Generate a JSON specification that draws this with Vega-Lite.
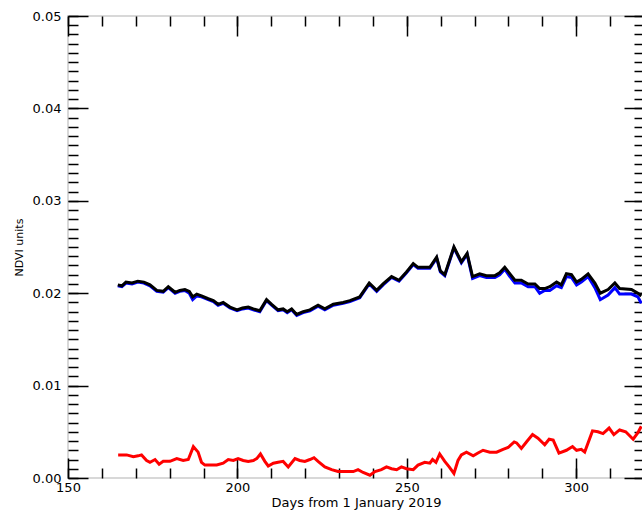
{
  "$schema": "https://vega.github.io/schema/vega-lite/v6.json",
  "autosize": "none",
  "padding": {"left": 68, "top": 16, "right": 0, "bottom": 35},
  "width": 576,
  "height": 462,
  "background": "white",
  "config": {
    "view": {"stroke": "#d8d8d8", "strokeWidth": 2},
    "axis": {"domain": false, "grid": false, "tickColor": "black", "tickWidth": 1.5, "labelColor": "black", "titleColor": "black", "labelFont": "DejaVu Sans", "titleFont": "DejaVu Sans", "titleFontWeight": "normal", "labelOverlap": false, "labelFlush": false}
  },
  "datasets": {
    "blue": [
      {"day":164.7,"ndvi":0.0208},{"day":165.9,"ndvi":0.0207},{"day":167.1,"ndvi":0.0211},{"day":168.9,"ndvi":0.0210},{"day":170.6,"ndvi":0.0212},{"day":172.4,"ndvi":0.0211},{"day":174.2,"ndvi":0.0208},{"day":176.2,"ndvi":0.0202},{"day":178.1,"ndvi":0.0201},{"day":179.6,"ndvi":0.0206},{"day":181.6,"ndvi":0.0200},{"day":183.0,"ndvi":0.0202},{"day":184.5,"ndvi":0.0203},{"day":185.8,"ndvi":0.0200},{"day":186.8,"ndvi":0.0193},{"day":188.0,"ndvi":0.0197},{"day":189.4,"ndvi":0.0196},{"day":191.4,"ndvi":0.0193},{"day":192.9,"ndvi":0.0191},{"day":194.3,"ndvi":0.0187},{"day":195.8,"ndvi":0.0189},{"day":197.8,"ndvi":0.0184},{"day":199.9,"ndvi":0.0181},{"day":201.5,"ndvi":0.0183},{"day":203.2,"ndvi":0.0184},{"day":204.7,"ndvi":0.0182},{"day":206.6,"ndvi":0.0180},{"day":208.6,"ndvi":0.0192},{"day":210.1,"ndvi":0.0187},{"day":212.0,"ndvi":0.0181},{"day":213.5,"ndvi":0.0182},{"day":214.7,"ndvi":0.0179},{"day":216.0,"ndvi":0.0182},{"day":217.5,"ndvi":0.0176},{"day":219.4,"ndvi":0.0179},{"day":221.4,"ndvi":0.0181},{"day":223.8,"ndvi":0.0186},{"day":225.8,"ndvi":0.0182},{"day":228.3,"ndvi":0.0187},{"day":231.2,"ndvi":0.0189},{"day":233.2,"ndvi":0.0191},{"day":236.1,"ndvi":0.0195},{"day":238.9,"ndvi":0.0210},{"day":241.1,"ndvi":0.0202},{"day":243.0,"ndvi":0.0209},{"day":245.5,"ndvi":0.0217},{"day":247.7,"ndvi":0.0213},{"day":249.9,"ndvi":0.0222},{"day":251.9,"ndvi":0.0231},{"day":253.3,"ndvi":0.0227},{"day":256.8,"ndvi":0.0227},{"day":258.8,"ndvi":0.0238},{"day":259.9,"ndvi":0.0223},{"day":261.2,"ndvi":0.0219},{"day":263.9,"ndvi":0.0249},{"day":266.1,"ndvi":0.0233},{"day":267.8,"ndvi":0.0242},{"day":269.4,"ndvi":0.0216},{"day":271.5,"ndvi":0.0219},{"day":273.5,"ndvi":0.0217},{"day":276.0,"ndvi":0.0217},{"day":277.4,"ndvi":0.0220},{"day":278.9,"ndvi":0.0226},{"day":280.2,"ndvi":0.0219},{"day":281.9,"ndvi":0.0211},{"day":283.8,"ndvi":0.0211},{"day":285.8,"ndvi":0.0207},{"day":287.8,"ndvi":0.0207},{"day":289.2,"ndvi":0.0200},{"day":290.7,"ndvi":0.0203},{"day":292.2,"ndvi":0.0203},{"day":294.2,"ndvi":0.0208},{"day":295.6,"ndvi":0.0206},{"day":297.1,"ndvi":0.0218},{"day":298.6,"ndvi":0.0217},{"day":300.1,"ndvi":0.0209},{"day":301.5,"ndvi":0.0212},{"day":303.5,"ndvi":0.0218},{"day":305.5,"ndvi":0.0206},{"day":307.1,"ndvi":0.0193},{"day":309.4,"ndvi":0.0198},{"day":311.4,"ndvi":0.0206},{"day":312.8,"ndvi":0.0199},{"day":316.3,"ndvi":0.0199},{"day":318.2,"ndvi":0.0196},{"day":319.2,"ndvi":0.0189}
    ],
    "black": [
      {"day":164.7,"ndvi":0.0209},{"day":165.9,"ndvi":0.0208},{"day":167.1,"ndvi":0.0212},{"day":168.9,"ndvi":0.0211},{"day":170.6,"ndvi":0.0213},{"day":172.4,"ndvi":0.0212},{"day":174.2,"ndvi":0.0209},{"day":176.2,"ndvi":0.0203},{"day":178.1,"ndvi":0.0202},{"day":179.6,"ndvi":0.0207},{"day":181.6,"ndvi":0.0201},{"day":183.0,"ndvi":0.0203},{"day":184.5,"ndvi":0.0204},{"day":185.8,"ndvi":0.0202},{"day":186.8,"ndvi":0.0196},{"day":188.0,"ndvi":0.0199},{"day":189.4,"ndvi":0.0197},{"day":191.4,"ndvi":0.0194},{"day":192.9,"ndvi":0.0192},{"day":194.3,"ndvi":0.0188},{"day":195.8,"ndvi":0.0190},{"day":197.8,"ndvi":0.0185},{"day":199.9,"ndvi":0.0182},{"day":201.5,"ndvi":0.0184},{"day":203.2,"ndvi":0.0185},{"day":204.7,"ndvi":0.0183},{"day":206.6,"ndvi":0.0181},{"day":208.6,"ndvi":0.0193},{"day":210.1,"ndvi":0.0188},{"day":212.0,"ndvi":0.0182},{"day":213.5,"ndvi":0.0183},{"day":214.7,"ndvi":0.0180},{"day":216.0,"ndvi":0.0183},{"day":217.5,"ndvi":0.0177},{"day":219.4,"ndvi":0.0180},{"day":221.4,"ndvi":0.0182},{"day":223.8,"ndvi":0.0187},{"day":225.8,"ndvi":0.0183},{"day":228.3,"ndvi":0.0188},{"day":231.2,"ndvi":0.0190},{"day":233.2,"ndvi":0.0192},{"day":236.1,"ndvi":0.0196},{"day":238.9,"ndvi":0.0211},{"day":241.1,"ndvi":0.0203},{"day":243.0,"ndvi":0.0210},{"day":245.5,"ndvi":0.0218},{"day":247.7,"ndvi":0.0214},{"day":249.9,"ndvi":0.0223},{"day":251.9,"ndvi":0.0232},{"day":253.3,"ndvi":0.0228},{"day":256.8,"ndvi":0.0228},{"day":258.8,"ndvi":0.0239},{"day":259.9,"ndvi":0.0224},{"day":261.2,"ndvi":0.0220},{"day":263.9,"ndvi":0.0250},{"day":266.1,"ndvi":0.0234},{"day":267.8,"ndvi":0.0243},{"day":269.4,"ndvi":0.0218},{"day":271.5,"ndvi":0.0221},{"day":273.5,"ndvi":0.0219},{"day":276.0,"ndvi":0.0219},{"day":277.4,"ndvi":0.0222},{"day":278.9,"ndvi":0.0228},{"day":280.2,"ndvi":0.0222},{"day":281.9,"ndvi":0.0214},{"day":283.8,"ndvi":0.0214},{"day":285.8,"ndvi":0.0210},{"day":287.8,"ndvi":0.0210},{"day":289.2,"ndvi":0.0205},{"day":290.7,"ndvi":0.0205},{"day":292.2,"ndvi":0.0207},{"day":294.2,"ndvi":0.0212},{"day":295.6,"ndvi":0.0209},{"day":297.1,"ndvi":0.0221},{"day":298.6,"ndvi":0.0220},{"day":300.1,"ndvi":0.0212},{"day":301.5,"ndvi":0.0215},{"day":303.5,"ndvi":0.0221},{"day":305.5,"ndvi":0.0211},{"day":307.1,"ndvi":0.0200},{"day":309.4,"ndvi":0.0204},{"day":311.4,"ndvi":0.0211},{"day":312.8,"ndvi":0.0205},{"day":316.3,"ndvi":0.0204},{"day":318.2,"ndvi":0.0200},{"day":319.2,"ndvi":0.0197}
    ],
    "red": [
      {"day":164.8,"ndvi":0.0025},{"day":167.3,"ndvi":0.0025},{"day":169.3,"ndvi":0.0023},{"day":170.7,"ndvi":0.0024},{"day":171.7,"ndvi":0.0025},{"day":173.2,"ndvi":0.0019},{"day":174.2,"ndvi":0.0017},{"day":175.7,"ndvi":0.0020},{"day":176.9,"ndvi":0.0015},{"day":178.1,"ndvi":0.0018},{"day":180.1,"ndvi":0.0018},{"day":182.1,"ndvi":0.0021},{"day":184.0,"ndvi":0.0019},{"day":185.5,"ndvi":0.0020},{"day":187.0,"ndvi":0.0034},{"day":188.4,"ndvi":0.0028},{"day":189.4,"ndvi":0.0017},{"day":190.4,"ndvi":0.0014},{"day":193.9,"ndvi":0.0014},{"day":195.8,"ndvi":0.0016},{"day":197.3,"ndvi":0.0020},{"day":198.8,"ndvi":0.0019},{"day":200.2,"ndvi":0.0021},{"day":201.7,"ndvi":0.0019},{"day":203.2,"ndvi":0.0018},{"day":204.7,"ndvi":0.0019},{"day":205.7,"ndvi":0.0021},{"day":206.8,"ndvi":0.0026},{"day":208.1,"ndvi":0.0018},{"day":209.1,"ndvi":0.0013},{"day":210.6,"ndvi":0.0016},{"day":212.0,"ndvi":0.0017},{"day":213.5,"ndvi":0.0018},{"day":215.0,"ndvi":0.0012},{"day":217.0,"ndvi":0.0021},{"day":218.4,"ndvi":0.0019},{"day":219.9,"ndvi":0.0018},{"day":221.4,"ndvi":0.0020},{"day":222.6,"ndvi":0.0022},{"day":223.8,"ndvi":0.0018},{"day":225.8,"ndvi":0.0012},{"day":227.8,"ndvi":0.0009},{"day":229.7,"ndvi":0.0007},{"day":232.2,"ndvi":0.0007},{"day":234.2,"ndvi":0.0007},{"day":235.6,"ndvi":0.0009},{"day":237.1,"ndvi":0.0006},{"day":239.1,"ndvi":0.0003},{"day":240.6,"ndvi":0.0007},{"day":242.5,"ndvi":0.0009},{"day":244.0,"ndvi":0.0012},{"day":245.5,"ndvi":0.0010},{"day":247.0,"ndvi":0.0009},{"day":248.4,"ndvi":0.0012},{"day":249.9,"ndvi":0.0010},{"day":251.9,"ndvi":0.0009},{"day":253.3,"ndvi":0.0014},{"day":255.3,"ndvi":0.0017},{"day":256.8,"ndvi":0.0016},{"day":257.6,"ndvi":0.0020},{"day":258.6,"ndvi":0.0017},{"day":259.7,"ndvi":0.0026},{"day":261.2,"ndvi":0.0018},{"day":262.5,"ndvi":0.0012},{"day":263.9,"ndvi":0.0005},{"day":265.1,"ndvi":0.0019},{"day":266.1,"ndvi":0.0025},{"day":267.6,"ndvi":0.0028},{"day":269.6,"ndvi":0.0024},{"day":271.0,"ndvi":0.0027},{"day":272.5,"ndvi":0.0030},{"day":274.5,"ndvi":0.0028},{"day":276.5,"ndvi":0.0028},{"day":278.4,"ndvi":0.0031},{"day":279.9,"ndvi":0.0033},{"day":281.7,"ndvi":0.0039},{"day":282.4,"ndvi":0.0038},{"day":283.8,"ndvi":0.0032},{"day":285.3,"ndvi":0.0039},{"day":287.1,"ndvi":0.0047},{"day":288.7,"ndvi":0.0043},{"day":290.7,"ndvi":0.0036},{"day":292.0,"ndvi":0.0042},{"day":293.2,"ndvi":0.0041},{"day":294.9,"ndvi":0.0027},{"day":297.1,"ndvi":0.0030},{"day":298.9,"ndvi":0.0034},{"day":300.1,"ndvi":0.0030},{"day":301.5,"ndvi":0.0031},{"day":302.5,"ndvi":0.0028},{"day":304.8,"ndvi":0.0051},{"day":306.4,"ndvi":0.0050},{"day":307.9,"ndvi":0.0048},{"day":309.7,"ndvi":0.0054},{"day":311.1,"ndvi":0.0047},{"day":312.8,"ndvi":0.0052},{"day":314.6,"ndvi":0.0050},{"day":316.8,"ndvi":0.0042},{"day":318.2,"ndvi":0.0049},{"day":319.2,"ndvi":0.0056}
    ]
  },
  "layer": [
    {
      "data": {"name": "blue"},
      "mark": {"type": "line", "color": "#0000ff", "strokeWidth": 3, "strokeOpacity": 0, "clip": true},
      "encoding": {
        "x": {
          "field": "day", "type": "quantitative",
          "scale": {"domain": [150, 320], "nice": false, "zero": false},
          "axis": {
            "orient": "bottom", "offset": -20, "tickSize": 20,
            "values": [150, 200, 250, 300],
            "title": "Days from 1 January 2019",
            "labelFontSize": 13, "labelPadding": 3,
            "titleFontSize": 13, "titlePadding": 2
          }
        },
        "y": {
          "field": "ndvi", "type": "quantitative",
          "scale": {"domain": [0, 0.05], "nice": false},
          "axis": {
            "orient": "left", "offset": -20, "tickSize": 20,
            "values": [0, 0.01, 0.02, 0.03, 0.04, 0.05],
            "format": ".2f",
            "title": "NDVI units",
            "labelFontSize": 13, "labelPadding": 7,
            "titleFontSize": 11, "titlePadding": 8
          }
        }
      }
    },
    {
      "data": {"name": "blue"},
      "mark": {"type": "line", "color": "#0000ff", "strokeWidth": 3, "clip": true},
      "encoding": {
        "x": {
          "field": "day", "type": "quantitative",
          "axis": {
            "orient": "bottom", "offset": -10, "tickSize": 10, "labels": false, "title": null,
            "values": [150,160,170,180,190,200,210,220,230,240,250,260,270,280,290,300,310,320]
          }
        },
        "y": {
          "field": "ndvi", "type": "quantitative",
          "axis": {
            "orient": "left", "offset": -10, "tickSize": 10, "labels": false, "title": null,
            "values": [0,0.001,0.002,0.003,0.004,0.005,0.006,0.007,0.008,0.009,0.01,0.011,0.012,0.013,0.014,0.015,0.016,0.017,0.018,0.019,0.02,0.021,0.022,0.023,0.024,0.025,0.026,0.027,0.028,0.029,0.03,0.031,0.032,0.033,0.034,0.035,0.036,0.037,0.038,0.039,0.04,0.041,0.042,0.043,0.044,0.045,0.046,0.047,0.048,0.049,0.05]
          }
        }
      }
    },
    {
      "data": {"name": "black"},
      "mark": {"type": "line", "color": "#000000", "strokeWidth": 3, "clip": true},
      "encoding": {
        "x": {
          "field": "day", "type": "quantitative",
          "axis": {
            "orient": "top", "offset": -20, "tickSize": 20, "labels": false, "title": null,
            "values": [150, 200, 250, 300]
          }
        },
        "y": {
          "field": "ndvi", "type": "quantitative",
          "axis": {
            "orient": "right", "offset": -20, "tickSize": 20, "labels": false, "title": null,
            "values": [0, 0.01, 0.02, 0.03, 0.04, 0.05]
          }
        }
      }
    },
    {
      "data": {"name": "red"},
      "mark": {"type": "line", "color": "#ff0000", "strokeWidth": 3, "clip": true},
      "encoding": {
        "x": {
          "field": "day", "type": "quantitative",
          "axis": {
            "orient": "top", "offset": -10, "tickSize": 10, "labels": false, "title": null,
            "values": [150,160,170,180,190,200,210,220,230,240,250,260,270,280,290,300,310,320]
          }
        },
        "y": {
          "field": "ndvi", "type": "quantitative",
          "axis": {
            "orient": "right", "offset": -10, "tickSize": 10, "labels": false, "title": null,
            "values": [0,0.001,0.002,0.003,0.004,0.005,0.006,0.007,0.008,0.009,0.01,0.011,0.012,0.013,0.014,0.015,0.016,0.017,0.018,0.019,0.02,0.021,0.022,0.023,0.024,0.025,0.026,0.027,0.028,0.029,0.03,0.031,0.032,0.033,0.034,0.035,0.036,0.037,0.038,0.039,0.04,0.041,0.042,0.043,0.044,0.045,0.046,0.047,0.048,0.049,0.05]
          }
        }
      }
    }
  ],
  "resolve": {"axis": {"x": "independent", "y": "independent"}}
}
